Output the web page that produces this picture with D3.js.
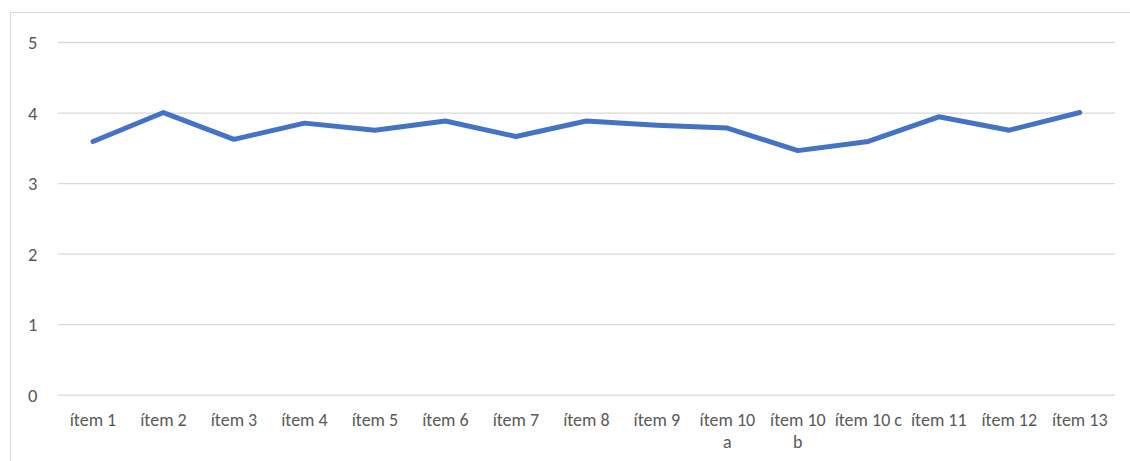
<!DOCTYPE html>
<html>
<head>
<meta charset="utf-8">
<script src="https://cdn.jsdelivr.net/npm/d3@7"></script>
<style>
  body { margin: 0; background: #fff; }
  svg { display: block; }
  .tick text { font-family: Carlito, "Open Sans", "Noto Sans", sans-serif; }
</style>
</head>
<body>
<div class="chart"></div>
<script>
// data
var categories = ["ítem 1", "ítem 2", "ítem 3", "ítem 4", "ítem 5", "ítem 6", "ítem 7",
                  "ítem 8", "ítem 9", "ítem 10 a", "ítem 10 b", "ítem 10 c", "ítem 11", "ítem 12", "ítem 13"];
var values = [3.59, 4.0, 3.62, 3.85, 3.75, 3.88, 3.66, 3.88, 3.82, 3.78, 3.46, 3.59, 3.94, 3.75, 4.0];
var tickLabels = [["ítem 1"], ["ítem 2"], ["ítem 3"], ["ítem 4"], ["ítem 5"], ["ítem 6"], ["ítem 7"],
                  ["ítem 8"], ["ítem 9"], ["ítem 10", "a"], ["ítem 10", "b"], ["ítem 10 c"],
                  ["ítem 11"], ["ítem 12"], ["ítem 13"]];
var yTicks = [0, 1, 2, 3, 4, 5];

var width = 1130, height = 461;
var mLeft = 57.75, mRight = 1115, mTop = 42, mBottom = 394.7;

var svg = d3.select(".chart").append("svg")
    .attr("width", width)
    .attr("height", height);

// chart frame
svg.append("rect")
    .attr("x", 10.5).attr("y", 12.5)
    .attr("width", 1130).attr("height", 460)
    .attr("fill", "none")
    .attr("stroke", "#d9d9d9")
    .attr("stroke-width", 1);

var x = d3.scaleBand().domain(categories).range([mLeft, mRight]);
var y = d3.scaleLinear().domain([0, 5]).range([mBottom, mTop]);

// gridlines + y labels
var yAxis = svg.append("g")
    .attr("transform", "translate(" + mLeft + ",0)")
    .call(d3.axisLeft(y).tickValues(yTicks).tickSize(-(mRight - mLeft)).tickFormat(d3.format("d")));
yAxis.select(".domain").remove();
yAxis.selectAll(".tick line").attr("stroke", "#d9d9d9").attr("stroke-width", 1.3);
yAxis.selectAll(".tick text")
    .attr("fill", "#595959")
    .attr("font-size", "18.5px")
    .attr("text-anchor", "middle")
    .attr("x", -25)
    .attr("dy", "0.35em");

// x labels
var xAxis = svg.append("g")
    .attr("transform", "translate(0," + mBottom + ")")
    .call(d3.axisBottom(x).tickSize(0).tickPadding(0));
xAxis.select(".domain").remove();
xAxis.selectAll(".tick text").each(function (d, i) {
    var t = d3.select(this).text(null)
        .attr("fill", "#595959")
        .attr("font-size", "18px")
        .attr("dy", null)
        .attr("y", 0);
    tickLabels[i].forEach(function (s, j) {
        t.append("tspan").attr("x", 0).attr("y", 31 + j * 22).text(s);
    });
});

// the line
var line = d3.line()
    .x(function (d, i) { return x(categories[i]) + x.bandwidth() / 2; })
    .y(function (d) { return y(d); });

svg.append("path")
    .datum(values)
    .attr("d", line)
    .attr("fill", "none")
    .attr("stroke", "#4472c4")
    .attr("stroke-width", 5)
    .attr("stroke-linecap", "round")
    .attr("stroke-linejoin", "round");
</script>
</body>
</html>
